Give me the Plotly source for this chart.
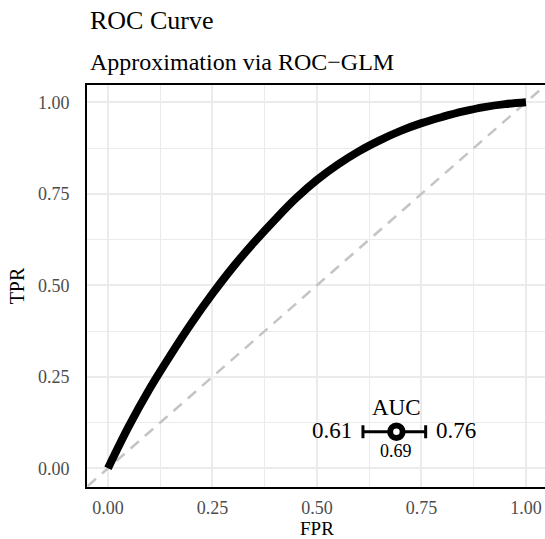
import plotly.graph_objects as go

# ROC curve
fpr = [0.0, 0.05, 0.1, 0.15, 0.2, 0.25, 0.3, 0.35, 0.4, 0.45, 0.5,
       0.55, 0.6, 0.65, 0.7, 0.75, 0.8, 0.85, 0.9, 0.95, 1.0]
tpr = [0.0, 0.115, 0.218, 0.310, 0.397, 0.477, 0.551, 0.618, 0.680, 0.738, 0.788,
       0.830, 0.866, 0.896, 0.922, 0.943, 0.960, 0.975, 0.987, 0.995, 1.0]

# AUC with confidence interval
auc = 0.69
ci_low = 0.61
ci_high = 0.76
auc_y = 0.10

tick_vals = [0.0, 0.25, 0.5, 0.75, 1.0]
tick_text = ["0.00", "0.25", "0.50", "0.75", "1.00"]

x_range = [-0.0502, 1.0455]
y_range = [-0.0511, 1.0473]

FONT = "Liberation Serif"
PLOT_H = 539 - 85 - 52

fig = go.Figure()

# diagonal reference line y = x
diag = [min(x_range[0], y_range[0]) - 0.1, max(x_range[1], y_range[1]) + 0.1]
fig.add_trace(go.Scatter(
    x=diag, y=diag, mode="lines",
    line=dict(color="#C4C4C4", width=2.5, dash="11px,8px"),
    hoverinfo="skip", showlegend=False))

# ROC curve
fig.add_trace(go.Scatter(
    x=fpr, y=tpr, mode="lines",
    line=dict(color="black", width=8, shape="spline", smoothing=1.0),
    showlegend=False))

# AUC point with CI
fig.add_trace(go.Scatter(
    x=[auc], y=[auc_y], mode="markers",
    marker=dict(symbol="circle", size=12.5, color="white",
                line=dict(color="black", width=6)),
    error_x=dict(type="data", symmetric=False,
                 array=[ci_high - auc], arrayminus=[auc - ci_low],
                 color="black", thickness=3, width=6.5),
    showlegend=False, cliponaxis=False))

ann = [
    dict(x=auc, y=auc_y, text="AUC", showarrow=False, xanchor="center",
         yanchor="middle", yshift=24, font=dict(size=23, color="black", family=FONT)),
    dict(x=auc, y=auc_y, text=f"{auc:.2f}", showarrow=False, xanchor="center",
         yanchor="middle", yshift=-19, font=dict(size=18, color="black", family=FONT)),
    dict(x=ci_low, y=auc_y, text=f"{ci_low:.2f}", showarrow=False, xanchor="right",
         yanchor="middle", xshift=-9, yshift=1, font=dict(size=23, color="black", family=FONT)),
    dict(x=ci_high, y=auc_y, text=f"{ci_high:.2f}", showarrow=False, xanchor="left",
         yanchor="middle", xshift=8, yshift=1, font=dict(size=23, color="black", family=FONT)),
    dict(xref="paper", yref="paper", x=0.0013, y=1 + (85 - 20) / PLOT_H, text="ROC Curve",
         showarrow=False, xanchor="left", yanchor="middle",
         font=dict(size=26, color="black", family=FONT)),
    dict(xref="paper", yref="paper", x=0.0013, y=1 + (85 - 62) / PLOT_H, text="Approximation via ROC\u2212GLM",
         showarrow=False, xanchor="left", yanchor="middle",
         font=dict(size=24, color="black", family=FONT)),
    # x-axis title
    dict(x=0.5, xref="x", yref="paper", y=-(528.5 - 487) / PLOT_H, text="FPR",
         showarrow=False, xanchor="center", yanchor="middle",
         font=dict(size=19, color="black", family=FONT)),
]

fig.update_layout(
    width=545, height=539,
    margin=dict(l=87, r=0, t=85, b=52, pad=0),
    paper_bgcolor="white", plot_bgcolor="white",
    font=dict(family=FONT, color="black"),
    annotations=ann,
    xaxis=dict(
        range=x_range, tickvals=tick_vals, ticktext=tick_text, automargin=False,
        ticks="outside", ticklen=3, tickcolor="rgba(0,0,0,0)",
        tickfont=dict(size=18, color="#4D4D4D", family=FONT),
        showgrid=True, gridcolor="#EBEBEB", gridwidth=2,
        minor=dict(dtick=0.125, tick0=0, showgrid=True, gridcolor="#EBEBEB", gridwidth=1, ticks=""),
        zeroline=False, showline=True, linecolor="black", linewidth=1.8, mirror=True,
    ),
    yaxis=dict(
        range=y_range, tickvals=tick_vals, ticktext=tick_text, automargin=False,
        ticks="outside", ticklen=12, tickcolor="rgba(0,0,0,0)",
        tickfont=dict(size=18, color="#4D4D4D", family=FONT),
        showgrid=True, gridcolor="#EBEBEB", gridwidth=2,
        minor=dict(dtick=0.125, tick0=0, showgrid=True, gridcolor="#EBEBEB", gridwidth=1, ticks=""),
        zeroline=False, showline=True, linecolor="black", linewidth=1.8, mirror=False,
        title=dict(text="TPR", font=dict(size=20, color="black", family=FONT), standoff=8),
    ),
)

fig.write_html("out.html", config={"displayModeBar": False},
               post_script="document.body.style.margin='0px';document.body.style.padding='0px';")
